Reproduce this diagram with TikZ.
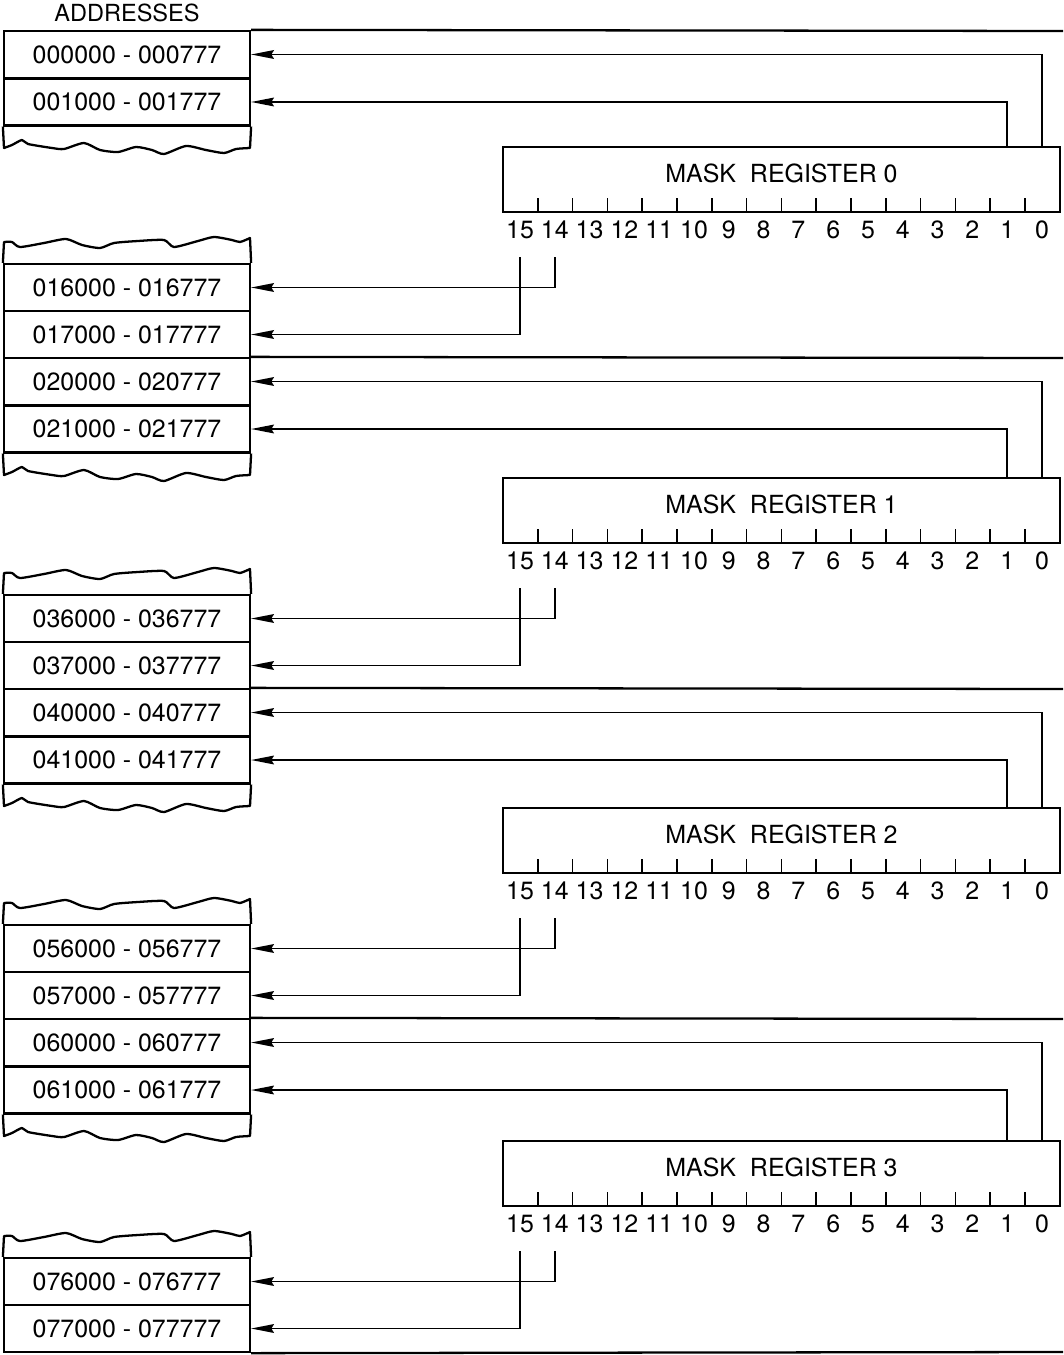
\documentclass[tikz,border=0pt]{standalone}
\usepackage{fontspec}
\setmainfont{TeX Gyre Heros}
\usepackage{tikz}
\usetikzlibrary{arrows.meta, positioning}

\begin{document}
\begin{tikzpicture}[
    x=0.02cm, y=-0.02cm,
    every node/.style={font=\fontsize{14.2}{17}\selectfont},
    addr/.style={draw, line width=1.3pt, minimum width=4.92cm,
                 minimum height=0.94cm, inner sep=0pt},
    reg/.style={draw, line width=1.3pt, minimum width=11.14cm,
                minimum height=1.3cm, inner sep=0pt,
                text height=0.35cm, text depth=0.22cm},
    bitno/.style={inner sep=1pt},
    edge/.style={line width=1.3pt},
    tick/.style={line width=0.9pt},
    arr/.style={-{Stealth[length=13pt, width=5pt, inset=1.5pt]}, line width=0.9pt},
  ]
    \useasboundingbox (0,0) rectangle (1063,1355);

    \foreach \b/\t/\u/\hi/\lo in {0/31/358/0/1, 1/358/689/2/3,
                                  2/689/1019/4/5, 3/1019/1352/6/7} {
      % address rows above the register
      \node[addr] (r\b-1) at (127,\t+23.5) {0\hi0000 - 0\hi0777};
      \node[addr] (r\b-2) at (127,\t+71)   {0\hi1000 - 0\hi1777};
      \draw[edge] (r\b-1.north east) -- (1063,\t);

      % torn end of the upper part
      \draw[edge, line join=round] (r\b-2.south west)
        -- plot[smooth, tension=0.4] coordinates {(4,\t+117) (12,\t+114)
           (22,\t+109) (28,\t+113) (52,\t+117) (64,\t+118) (84,\t+112)
           (100,\t+119) (118,\t+121) (136,\t+116) (152,\t+119)
           (164,\t+123) (186,\t+115) (206,\t+119) (224,\t+122)
           (236,\t+118) (250,\t+117)}
        -- (r\b-2.south east);

      % address rows below the register
      \node[addr] (r\b-3) at (127,\u-70.5) {0\lo6000 - 0\lo6777};
      \node[addr] (r\b-4) at (127,\u-23.5) {0\lo7000 - 0\lo7777};

      % torn start of the lower part
      \draw[edge, line join=round] (r\b-3.north west)
        -- plot[smooth, tension=0.4] coordinates {(4,\u-116) (12,\u-116)
           (20,\u-111) (44,\u-115) (66,\u-119) (82,\u-113) (100,\u-110)
           (114,\u-115) (138,\u-117) (164,\u-118) (174,\u-111)
           (198,\u-117) (214,\u-121) (232,\u-118) (240,\u-116) (250,\u-120)}
        -- (r\b-3.north east);

      % mask register
      \node[reg] (reg\b) at (781.5,\u-178.5) {MASK\ \ REGISTER \b};
      \foreach \k in {1,...,15}
        \draw[tick] (503+\k*34.8,\u-146) -- (503+\k*34.8,\u-160);
      \foreach \k in {0,...,15}
        \node[bitno] (n\b-\k) at (1042-\k*34.8,\u-128) {\k};
      \coordinate (s\b) at (0,\u-101);

      % bit lines to the address rows
      \draw[arr] (reg\b.north -| n\b-0)  |- (r\b-1.east);
      \draw[arr] (reg\b.north -| n\b-1)  |- (r\b-2.east);
      \draw[arr] (n\b-14 |- s\b) |- (r\b-3.east);
      \draw[arr] (n\b-15 |- s\b) |- (r\b-4.east);
    }
    \draw[edge] (r3-4.south east) -- (1063,1352);

    \node[above=1pt of r0-1, font=\fontsize{13.4}{15}\selectfont] (hdr) {ADDRESSES};
  \end{tikzpicture}
\end{document}
